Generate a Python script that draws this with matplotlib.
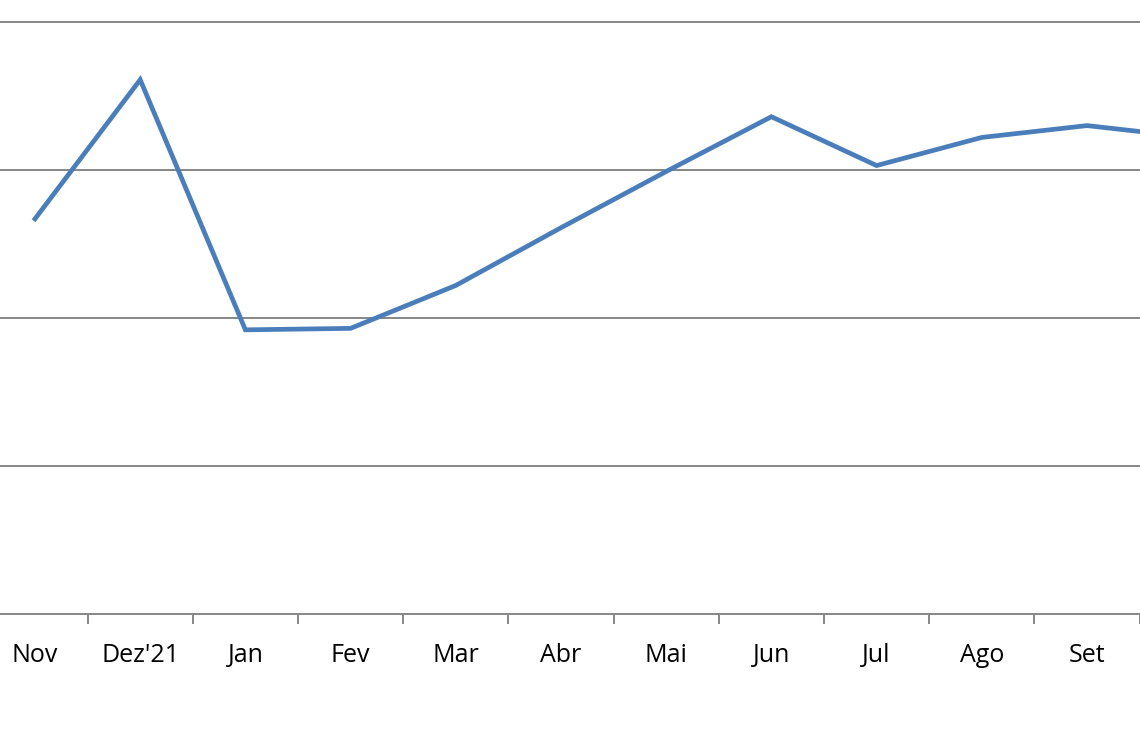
import numpy as np
import matplotlib.pyplot as plt

plt.rcParams['font.family'] = ['Open Sans', 'DejaVu Sans']

meses = ['Nov', "Dez'21", 'Jan', 'Fev', 'Mar', 'Abr', 'Mai', 'Jun', 'Jul', 'Ago', 'Set', 'Out']
valores = [2.67, 3.61, 1.92, 1.93, 2.22, 2.61, 2.99, 3.36, 3.03, 3.22, 3.30, 3.22]
grade = [1, 2, 3, 4]

fig = plt.figure(figsize=(11.4, 7.42), dpi=100)
# eixo ultrapassa as bordas da figura (recorte do original)
px = 105.2
esq = 35 - px / 2
dir_ = 35 + px * 11.5
topo = 614 - 4.2 * 148
ax = fig.add_axes([esq / 1140, 128 / 742, (dir_ - esq) / 1140, (614 - topo) / 742])

x = np.arange(len(meses))
ax.plot(x, valores, color='#4A7EBB', lw=3.4, solid_joinstyle='miter')

ax.set_xlim(-0.5, len(meses) - 0.5)
ax.set_ylim(0, 4.2)

for g in grade:
    ax.axhline(g, color='#868686', lw=1.4, zorder=0)

for s in ['top', 'right', 'left']:
    ax.spines[s].set_visible(False)
ax.spines['bottom'].set_color('#868686')
ax.spines['bottom'].set_linewidth(1.4)

ax.set_yticks([])
ax.set_xticks(x)
rotulos = ax.set_xticklabels(meses, fontsize=18, color='black')
# o ultimo mes fica fora do recorte
rotulos[-1].set_visible(False)
ax.set_xticks(x[:-1] + 0.5, minor=True)
ax.tick_params(axis='x', which='major', length=0, pad=21)
ax.tick_params(axis='x', which='minor', length=7.5, width=1.4, color='#868686', direction='out')

fig.savefig('out.png', dpi=100)
plt.close(fig)
